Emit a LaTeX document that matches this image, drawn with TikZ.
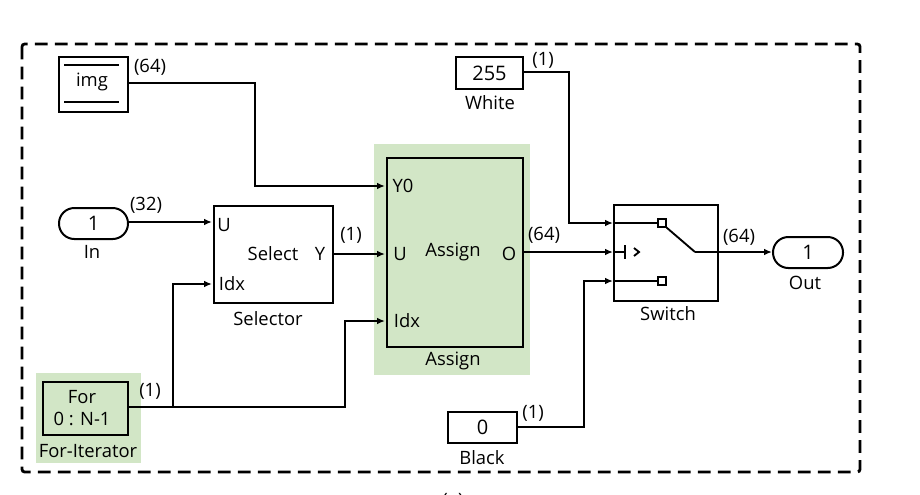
\documentclass[tikz,border=0pt]{standalone}
\usepackage{fontspec}
\setmainfont{Open Sans}
\usetikzlibrary{arrows.meta}
\definecolor{hl}{HTML}{D2E6C6}
\tikzset{
  x=0.75pt,y=-0.75pt,
  block/.style={draw,line width=1.5pt,inner sep=0pt,fill=white,font=\fontsize{15pt}{17pt}\selectfont},
  hlblock/.style={block,fill=hl},
  pill/.style={block,rounded corners=11.5pt},
  txt/.style={inner sep=0pt,font=\fontsize{13.8pt}{15pt}\selectfont,text=black},
  green/.style={fill=hl,draw=none,inner sep=0pt},
  wire/.style={line width=1.4pt},
  arr/.style={wire,-{Latex[length=6pt,width=5pt]}},
  port/.style={draw,line width=1.5pt,fill=white,inner sep=0pt,minimum size=5.4pt}
}
\newcommand{\boxat}[6]{\node[#1,anchor=north west,minimum width=#4*0.75pt,minimum height=#5*0.75pt] (#2) at #3 {#6};}
\begin{document}
\begin{tikzpicture}
\useasboundingbox (0,0) rectangle (920,494);
\clip (0,0) rectangle (920,494);
\fill[white] (0,0) rectangle (920,494);
% outer frame
\draw[line width=2.1pt,dash pattern=on 9.5pt off 5.5pt,rounded corners=2pt] (22,44) rectangle (860,472);
% green backgrounds
\boxat{green}{assignbg}{(374,144)}{156}{231}{}
\boxat{green}{forbg}{(36,373)}{105}{90}{}
% blocks
\boxat{block}{img}{(58,56)}{69}{55}{}
\node[txt] (imgt) at (92,82) {img};
\draw[wire] (64,65) -- (119,65) (64,102) -- (119,102);
\boxat{pill}{in}{(58,207)}{69}{31}{1}
\node[txt] (inl) at (92,252) {In};
\boxat{block}{sel}{(213,205)}{119}{97}{}
\node[txt] (selU) at (224,225) {U};
\node[txt] (selI) at (232,284) {Idx};
\node[txt] (selS) at (273,254) {Select};
\node[txt] (selY) at (320,254) {Y};
\node[txt] (sell) at (268,319) {Selector};
\boxat{hlblock}{asg}{(386,157)}{136}{189}{}
\node[txt] (asgY) at (403,186) {Y0};
\node[txt] (asgU) at (400,254) {U};
\node[txt] (asgA) at (453,252) {Assign};
\node[txt] (asgO) at (509,254) {O};
\node[txt] (asgI) at (407,321) {Idx};
\node[txt] (asgl) at (453,361) {Assign};
\boxat{block}{white}{(455,56)}{67}{32}{255}
\node[txt] (whitel) at (490,103) {White};
\boxat{block}{black}{(447,411)}{69}{31}{0}
\node[txt] (blackl) at (482,458) {Black};
\boxat{hlblock}{for}{(42,381)}{85}{53}{}
\node[txt] (fora) at (82,397) {For};
\node[txt] (forb) at (82,419) {0 : N-1};
\node[txt] (forl) at (88,451) {For-Iterator};
\boxat{block}{sw}{(613,204)}{104}{96}{}
\node[txt] (swl) at (668,314) {Switch};
\boxat{pill}{out}{(772,236)}{70}{31}{1}
\node[txt] (outl) at (805,283) {Out};
% named port coordinates
\coordinate (pY0) at (385,186);
\coordinate (pU) at (385,254);
\coordinate (pI) at (385,321);
\coordinate (sU) at (212,222);
\coordinate (sI) at (212,284);
\coordinate (wT) at (613,223);
\coordinate (wM) at (613,252);
\coordinate (wB) at (613,281);
\coordinate (bar) at (625,252);
\coordinate (elbow) at (695,252);
\coordinate (forbranch) at (173,407);
% switch interior
\node[port] (st) at (662,223) {};
\node[port] (sb) at (662,281) {};
\draw[wire] (wT) -- (st);
\draw[wire] (wB) -- (sb);
\draw[wire] (wM) -- (bar);
\draw[wire] (625,245) -- (625,259);
\draw[wire] (634,248) -- (639,252) -- (634,256);
\draw[wire] (st.south east) -- (elbow);
% connectors
\draw[arr] (img.east |- 0,83) -- (255,83) |- (pY0);
\draw[arr] (in.east |- 0,222) -- (sU);
\draw[arr] (sel.east |- 0,254) -- (pU);
\draw[arr] (asg.east |- 0,252) -- (wM);
\draw[arr] (white.east |- 0,72) -- (569,72) |- (wT);
\draw[arr] (black.east |- 0,427) -- (584,427) |- (wB);
\draw[arr] (for.east |- 0,407) -- (345,407) |- (pI);
\draw[arr] (forbranch) |- (sI);
\draw[arr] (elbow) -- (out.west |- 0,252);
% signal size labels
\node[txt] (n1) at (150,67) {(64)};
\node[txt] (n2) at (146,205) {(32)};
\node[txt] (n3) at (351,235) {(1)};
\node[txt] (n4) at (544,235) {(64)};
\node[txt] (n5) at (739,237) {(64)};
\node[txt] (n6) at (543,60) {(1)};
\node[txt] (n7) at (533,413) {(1)};
\node[txt] (n8) at (150,391) {(1)};
\node[txt] (cap) at (453,501) {(a)};
\end{tikzpicture}
\end{document}
